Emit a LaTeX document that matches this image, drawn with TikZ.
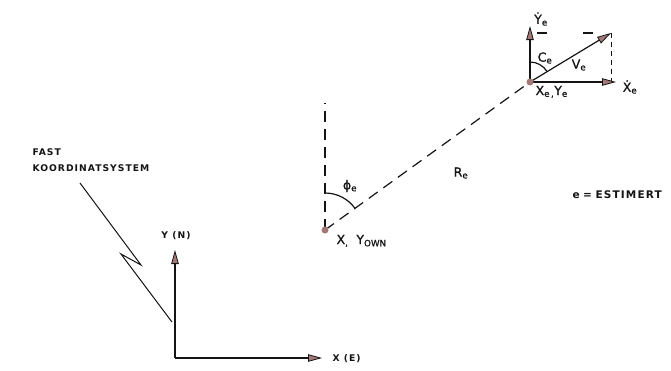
\documentclass[tikz,border=0pt]{standalone}
\usepackage{fontspec}
\setmainfont{DejaVu Sans}
\newfontfamily\spaced[LetterSpace=11]{DejaVu Sans Bold}
\newfontfamily\symf[FakeBold=0.8]{DejaVu Sans}
\usetikzlibrary{arrows.meta}
\definecolor{tipc}{RGB}{165,120,120}
\definecolor{ink}{RGB}{20,20,20}
\begin{document}
\begin{tikzpicture}[x=1pt,y=-1pt,line width=1.2pt,draw=ink,text=ink,
  vec/.style={-{Triangle[length=14pt,width=7.5pt,fill=tipc,line width=0.8pt]}},
  dsh/.style={dash pattern=on 11pt off 7pt},
  lbl/.style={inner sep=0pt,font=\spaced\fontsize{9.2}{10}\selectfont},
  sym/.style={inner sep=0pt,font=\symf\fontsize{12.5}{14}\selectfont},
  pt/.style={circle,fill=tipc,draw=none,inner sep=0pt,minimum size=7pt}]
\useasboundingbox (0,0) rectangle (671,370);
% coordinates
\coordinate (own) at (325,230);
\coordinate (tgt) at (530,82);
\coordinate (o) at (175,358);
\coordinate (ytip) at (175,250);
\coordinate (xtip) at (322,358);
\coordinate (vtop) at (325,103);
\coordinate (ydot) at (530,26);
\coordinate (xdot) at (616,82);
\coordinate (vtip) at (611,33);
\coordinate (hd) at (537,33);
\coordinate (vbot) at (611,82);
\coordinate (l1) at (80,183);
\coordinate (l2) at (141,265);
\coordinate (l3) at (121,254);
\coordinate (l4) at (172,322);
% fixed axes
\draw[vec] (o) -- (ytip);
\draw[vec] (o) -- (xtip);
\draw[line width=1pt] (l1) -- (l2) -- (l3) -- (l4);
% own position
\draw[dsh] (own) -- (vtop);
\draw[dsh] (own) -- (tgt);
\draw ([shift={(0,-37)}]own) arc[start angle=-90,end angle=-35.8,radius=37];
% target vectors
\draw[dash pattern=on 10pt off 36pt] (hd) -- (vtip);
\draw[dash pattern=on 5pt off 4pt,line width=1pt] (vtip) -- (vbot);
\draw[vec] (tgt) -- (ydot);
\draw[vec] (tgt) -- (xdot);
\draw[vec] (tgt) -- (vtip);
\draw ([shift={(0,-20)}]tgt) arc[start angle=-90,end angle=-31.2,radius=20];
\node[pt] (ownpt) at (own) {};
\node[pt] (tgtpt) at (tgt) {};
% labels
\node[lbl,anchor=west] (fast) at (32,152) {FAST};
\node[lbl,anchor=west] (koord) at (32,168) {KOORDINATSYSTEM};
\node[lbl] (yn) at (176,236) {Y (N)};
\node[lbl,anchor=west] (xe) at (332,359) {X (E)};
\node[lbl,anchor=west,font=\spaced\fontsize{10.5}{12}\selectfont] (est) at (572,195) {e\,\,=\,\,ESTIMERT};
\node[sym,anchor=base west] (ownl) at (336,244) {X\textsubscript{,}\hspace{8pt}Y\textsubscript{OWN}};
\node[sym] (phi) at (350,186) {ϕ\textsubscript{e}};
\node[sym] (re) at (461,173) {R\textsubscript{e}};
\node[sym] (yd) at (541,19) {Ẏ\textsubscript{e}};
\node[sym] (ce) at (545,58) {C\textsubscript{e}};
\node[sym] (ve) at (579,65) {V\textsubscript{e}};
\node[sym] (xd) at (630,87) {Ẋ\textsubscript{e}};
\node[sym,anchor=base west] (tl) at (535,95) {X\textsubscript{e\,,}Y\textsubscript{e}};
\end{tikzpicture}
\end{document}
